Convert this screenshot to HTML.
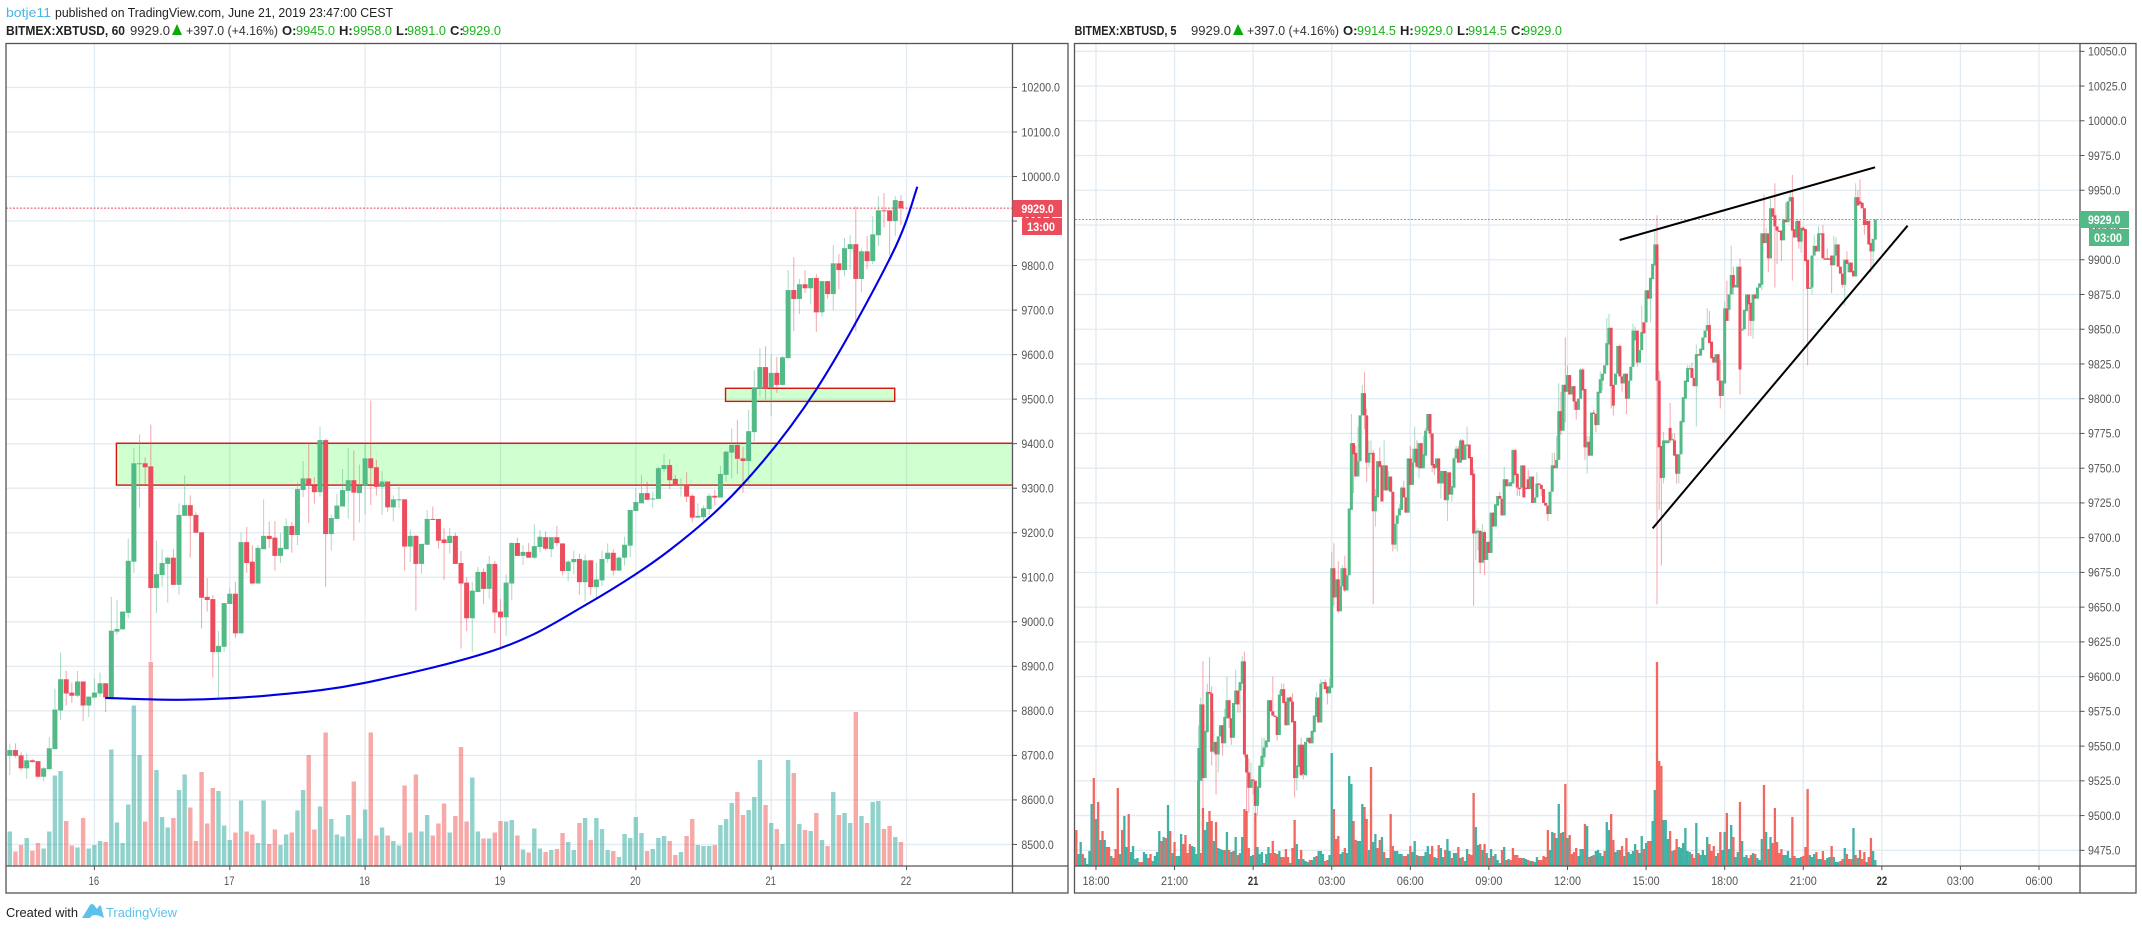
<!DOCTYPE html>
<html lang="en">
<head>
<meta charset="utf-8">
<title>BITMEX:XBTUSD charts</title>
<style>
html,body{margin:0;padding:0;background:#fff;width:2142px;height:930px;overflow:hidden}
svg{display:block;font-family:"Liberation Sans",sans-serif}
</style>
</head>
<body>
<svg id="stage" xmlns="http://www.w3.org/2000/svg" width="2142" height="930" viewBox="0 0 2142 930">
  <defs>
    <clipPath id="clipL"><rect x="6" y="44" width="1006.5" height="822"/></clipPath>
    <clipPath id="clipR"><rect x="1075" y="44" width="1005" height="822"/></clipPath>
  </defs>
  <rect x="0" y="0" width="2142" height="930" fill="#fff"/>

  <g id="gridL"></g>
  <g id="gridR"></g>
  <g id="zonesL" clip-path="url(#clipL)"></g>
  <g id="volL" clip-path="url(#clipL)"></g>
  <g id="volR" clip-path="url(#clipR)"></g>
  <g id="candL" clip-path="url(#clipL)"></g>
  <g id="candR" clip-path="url(#clipR)"></g>
  <g id="lastL" clip-path="url(#clipL)"></g>
  <g id="lastR" clip-path="url(#clipR)"></g>
  <g id="drawL" clip-path="url(#clipL)"></g>
  <g id="drawR"></g>

  <g fill="none" stroke="#555" stroke-width="1.3">
    <rect x="6" y="43.5" width="1062" height="849.5"/>
    <line x1="1012.5" y1="43.5" x2="1012.5" y2="893"/>
    <line x1="6" y1="866" x2="1068" y2="866"/>
    <rect x="1074.5" y="43.5" width="1061.5" height="849.5"/>
    <line x1="2080" y1="43.5" x2="2080" y2="893"/>
    <line x1="1074.5" y1="866" x2="2136" y2="866"/>
  </g>
  <g id="axisL"></g>
  <g id="axisR"></g>

  <g>
    <rect x="1012.5" y="200" width="49.5" height="17" fill="#eb4d5c"/>
    <text x="1021.4" y="212.8" font-size="12" font-weight="bold" fill="#fff" textLength="32.4" lengthAdjust="spacingAndGlyphs">9929.0</text>
    <rect x="1022" y="218" width="40" height="17" fill="#eb4d5c"/>
    <text x="1027" y="230.8" font-size="12" font-weight="bold" fill="#fff" textLength="28" lengthAdjust="spacingAndGlyphs">13:00</text>
  </g>
  <g>
    <rect x="2080" y="211" width="49" height="17" fill="#53b987"/>
    <text x="2088" y="223.8" font-size="12" font-weight="bold" fill="#fff" textLength="32.4" lengthAdjust="spacingAndGlyphs">9929.0</text>
    <rect x="2089" y="229" width="40" height="17" fill="#53b987"/>
    <text x="2094" y="241.8" font-size="12" font-weight="bold" fill="#fff" textLength="28" lengthAdjust="spacingAndGlyphs">03:00</text>
  </g>

  <g font-size="13">
    <text x="6" y="17" fill="#47b5e6" textLength="45" lengthAdjust="spacingAndGlyphs">botje11</text>
    <text x="55" y="17" fill="#222" textLength="338" lengthAdjust="spacingAndGlyphs">published on TradingView.com, June 21, 2019 23:47:00 CEST</text>
  </g>

  <g font-size="13">
    <text x="6" y="35" font-weight="bold" fill="#222" textLength="119" lengthAdjust="spacingAndGlyphs">BITMEX:XBTUSD, 60</text>
    <text x="130" y="35" fill="#333" textLength="40" lengthAdjust="spacingAndGlyphs">9929.0</text>
    <polygon points="172,35 177,24 182,35" fill="#0aa90a"/>
    <text x="186" y="35" fill="#333" textLength="92" lengthAdjust="spacingAndGlyphs">+397.0 (+4.16%)</text>
    <text x="282" y="35" font-weight="bold" fill="#222">O:</text>
    <text x="296" y="35" fill="#1db31d" textLength="39" lengthAdjust="spacingAndGlyphs">9945.0</text>
    <text x="339" y="35" font-weight="bold" fill="#222">H:</text>
    <text x="353" y="35" fill="#1db31d" textLength="39" lengthAdjust="spacingAndGlyphs">9958.0</text>
    <text x="396" y="35" font-weight="bold" fill="#222">L:</text>
    <text x="407" y="35" fill="#1db31d" textLength="39" lengthAdjust="spacingAndGlyphs">9891.0</text>
    <text x="450" y="35" font-weight="bold" fill="#222">C:</text>
    <text x="462" y="35" fill="#1db31d" textLength="39" lengthAdjust="spacingAndGlyphs">9929.0</text>
  </g>

  <g font-size="13">
    <text x="1074.5" y="35" font-weight="bold" fill="#222" textLength="102" lengthAdjust="spacingAndGlyphs">BITMEX:XBTUSD, 5</text>
    <text x="1191" y="35" fill="#333" textLength="40" lengthAdjust="spacingAndGlyphs">9929.0</text>
    <polygon points="1233,35 1238,24 1243.5,35" fill="#0aa90a"/>
    <text x="1247" y="35" fill="#333" textLength="92" lengthAdjust="spacingAndGlyphs">+397.0 (+4.16%)</text>
    <text x="1343" y="35" font-weight="bold" fill="#222">O:</text>
    <text x="1357" y="35" fill="#1db31d" textLength="39" lengthAdjust="spacingAndGlyphs">9914.5</text>
    <text x="1400" y="35" font-weight="bold" fill="#222">H:</text>
    <text x="1414" y="35" fill="#1db31d" textLength="39" lengthAdjust="spacingAndGlyphs">9929.0</text>
    <text x="1457" y="35" font-weight="bold" fill="#222">L:</text>
    <text x="1468" y="35" fill="#1db31d" textLength="39" lengthAdjust="spacingAndGlyphs">9914.5</text>
    <text x="1511" y="35" font-weight="bold" fill="#222">C:</text>
    <text x="1523" y="35" fill="#1db31d" textLength="39" lengthAdjust="spacingAndGlyphs">9929.0</text>
  </g>

  <g>
    <text x="6" y="917" font-size="13" fill="#222" textLength="72" lengthAdjust="spacingAndGlyphs">Created with</text>
    <path d="M82 918 L90 905 Q92 903 94 905 L97 909 L99 906 Q100 905 101 906 L104 918 Q93 912 90 918 Z" fill="#5cc2ea"/>
    <text x="106" y="917" font-size="13" fill="#5cc2ea" textLength="71" lengthAdjust="spacingAndGlyphs">TradingView</text>
  </g>
</svg>

<script>
/* ===== Left chart (60 min) data ===== */
const leftOpen = [
8699,8712,8700,8671,8689,8687,8652,8669,8714,8801,
8871,8841,8834,8866,8812,8830,8839,8862,8830,8978,
8983,9020,9135,9355,9356,9349,9076,9105,9130,9144,
9083,9238,9262,9240,9201,9056,9051,8932,8944,9040,
9063,8974,9179,9135,9086,9163,9193,9189,9148,9163,
9215,9195,9296,9322,9306,9291,9408,9197,9231,9259,
9294,9318,9289,9306,9367,9347,9303,9315,9257,9274,
9275,9169,9193,9130,9173,9231,9231,9185,9177,9193,
9132,9088,9008,9067,9112,9074,9130,9023,9010,9086,
9177,9148,9157,9144,9168,9190,9163,9190,9176,9114,
9134,9141,9089,9138,9078,9093,9141,9155,9115,9144,
9171,9249,9266,9289,9275,9276,9343,9352,9321,9305,
9307,9283,9234,9235,9253,9283,9279,9330,9380,9397,
9367,9361,9426,9523,9572,9525,9559,9532,9592,9745,
9725,9758,9749,9772,9695,9765,9736,9805,9790,9837,
9848,9770,9832,9810,9868,9924,9924,9900,9945];
const leftHigh = [
8725,8727,8707,8704,8691,8687,8674,8741,8850,8931,
8890,8863,8890,8866,8832,8873,8886,8862,9056,9049,
9023,9187,9390,9421,9369,9443,9182,9163,9146,9164,
9266,9329,9284,9246,9201,9098,9060,8979,9042,9075,
9090,9200,9213,9172,9172,9275,9225,9226,9200,9232,
9225,9313,9361,9402,9325,9439,9410,9241,9287,9343,
9390,9385,9353,9399,9497,9364,9338,9315,9284,9303,
9275,9207,9194,9175,9251,9259,9231,9211,9211,9200,
9159,9100,9089,9123,9120,9148,9137,9051,9107,9179,
9189,9172,9177,9219,9206,9203,9190,9215,9176,9139,
9160,9153,9151,9139,9133,9160,9176,9163,9147,9191,
9251,9300,9330,9315,9292,9348,9377,9365,9330,9322,
9336,9287,9266,9261,9289,9296,9350,9384,9434,9453,
9393,9476,9565,9614,9619,9601,9595,9597,9790,9819,
9770,9790,9772,9781,9765,9765,9846,9826,9862,9868,
9933,9838,9866,9911,9956,9963,9924,9956,9958];
const leftLow = [
8656,8695,8666,8647,8684,8650,8642,8669,8714,8780,
8812,8818,8831,8777,8786,8828,8831,8797,8828,8971,
8983,9008,9110,9257,9309,8911,9020,9079,9043,9083,
9061,9238,9144,9200,8985,9023,8875,8830,8933,9040,
8963,8974,9110,9084,9086,9163,9166,9115,9132,9163,
9155,9172,9280,9222,9265,9281,9079,9160,9231,9259,
9232,9182,9223,9241,9262,9284,9240,9247,9225,9255,
9115,9134,9025,9108,9173,9229,9164,9094,9153,9130,
8940,8979,8933,9067,9040,9052,8974,8940,8968,9048,
9148,9128,9144,9141,9157,9160,9145,9170,9104,9091,
9106,9061,9046,9061,9053,9080,9132,9104,9114,9126,
9145,9249,9266,9274,9256,9276,9337,9298,9306,9281,
9269,9223,9234,9226,9240,9262,9279,9315,9322,9332,
9289,9311,9405,9505,9499,9463,9514,9532,9592,9653,
9691,9739,9713,9651,9685,9725,9700,9747,9776,9790,
9653,9740,9792,9803,9844,9886,9823,9866,9891];
const leftClose = [
8712,8699,8671,8689,8685,8652,8671,8716,8803,8871,
8839,8834,8866,8812,8832,8841,8862,8830,8980,8984,
9023,9137,9356,9356,9347,9076,9107,9132,9144,9083,
9240,9262,9238,9200,9054,9049,8932,8946,9042,9063,
8974,9179,9132,9086,9166,9193,9186,9148,9166,9215,
9195,9298,9322,9306,9291,9408,9197,9233,9261,9296,
9318,9290,9306,9367,9345,9303,9315,9257,9275,9275,
9169,9193,9130,9175,9231,9229,9182,9177,9193,9130,
9086,9008,9070,9112,9074,9130,9021,9010,9088,9177,
9148,9157,9144,9170,9191,9164,9190,9177,9114,9135,
9141,9089,9138,9078,9095,9141,9155,9115,9144,9173,
9251,9269,9289,9274,9277,9345,9352,9318,9306,9307,
9281,9234,9238,9255,9283,9279,9332,9382,9397,9366,
9361,9428,9525,9572,9523,9559,9532,9594,9745,9725,
9758,9749,9772,9695,9765,9736,9805,9790,9839,9848,
9770,9832,9810,9870,9924,9922,9900,9947,9929];
const leftVolume = [
34.5,14.5,21,28,15.5,23,17.5,34.5,90.5,95,
45,20.5,18.5,48,17.5,21,25,24,116.5,43.5,
23,61.5,160.5,111,44.5,204,96,49,38.5,48,
76,91.5,58.5,25,94,42.5,78,75,40.5,26,
33.5,65.5,34.5,31.5,23,65.5,22,36.5,21,31.5,
33.5,55.5,76,111,36.5,59.5,133.5,47,31.5,29.5,
51,84.5,27.5,56.5,133.5,30.5,38.5,30.5,25,20.5,
80.5,33.5,91.5,34.5,51,30.5,42.5,62.5,33.5,50,
119,44.5,88.5,34.5,27.5,27.5,33.5,45,44.5,46,
30.5,16.5,13.5,37.5,17.5,14,16,17,33,24,
16,43,48,26,48,37,16,15,9,32,
28,49,33,15,17,28,30,25,11,14,
30,47,21,20,20,21,41,47,63,74,
51,56,69,106,61,43,37,22,106,93,
42,36,35,53,26,20,74,51,53,43,
154,50,43,64,65,37,40,29,24];
const leftPriceTicks = [10200,10100,10000,9900,9800,9700,9600,9500,9400,9300,9200,9100,9000,8900,8800,8700,8600,8500];
const leftTimeBars = [15,39,63,87,111,135,159];
const leftTimeLabels = ["16","17","18","19","20","21","22"];
const leftLastPrice = [9929];
/* zones: first bar, last bar (null = to axis), upper price, lower price */
const zoneStartBar = [18.9,126.9];
const zoneEndBar = [null,156.9];
const zoneTop = [9401,9524.4];
const zoneBottom = [9307,9495];
/* hand drawn parabola: date (day of June) and price */
const curveDay = [16.08,16.68,17.3,18.0,19.0,19.63,20.25,20.8,21.34,21.89,22.08];
const curvePrice = [8829,8825,8835,8863,8941,9038,9161,9312,9525,9824,9977];

/* ===== Right chart (5 min) data ===== */
const rightOpen = [
9469,9525,9580,9527,9560,9589,9588,9546,9553,9544,
9557,9565,9552,9570,9583,9570,9556,9580,9590,9590,
9595,9611,9544,9531,9520,9526,9525,9507,9520,9535,
9542,9549,9553,9583,9575,9572,9571,9558,9586,9591,
9582,9565,9585,9582,9568,9527,9535,9551,9551,9529,
9553,9556,9552,9560,9571,9585,9567,9595,9596,9593,
9588,9592,9678,9657,9670,9647,9665,9678,9662,9673,
9720,9768,9761,9744,9755,9788,9804,9788,9754,9760,
9761,9719,9729,9755,9752,9734,9752,9734,9744,9733,
9695,9710,9716,9720,9736,9729,9718,9757,9738,9754,
9764,9750,9768,9750,9759,9777,9789,9775,9753,9750,
9757,9739,9739,9748,9727,9747,9731,9736,9757,9764,
9754,9770,9756,9766,9767,9758,9746,9703,9704,9705,
9682,9704,9684,9697,9689,9718,9708,9723,9730,9728,
9716,9742,9737,9737,9739,9763,9746,9736,9736,9752,
9736,9742,9735,9744,9725,9729,9739,9738,9735,9725,
9723,9717,9733,9752,9750,9756,9791,9777,9810,9805,
9817,9803,9809,9798,9792,9800,9821,9807,9765,9769,
9759,9790,9789,9781,9804,9813,9818,9824,9839,9851,
9810,9810,9818,9838,9816,9811,9818,9800,9813,9823,
9842,9849,9826,9835,9855,9855,9878,9872,9886,9896,
9911,9813,9766,9743,9768,9768,9779,9770,9770,9760,
9746,9760,9783,9800,9812,9821,9822,9815,9809,9832,
9831,9835,9844,9849,9853,9841,9830,9826,9832,9813,
9802,9811,9865,9864,9875,9889,9880,9880,9895,9849,
9850,9863,9875,9869,9856,9875,9872,9880,9882,9919,
9912,9919,9901,9937,9932,9924,9921,9921,9914,9929,
9927,9942,9945,9922,9916,9928,9913,9923,9922,9900,
9879,9880,9903,9910,9906,9918,9919,9901,9901,9901,
9903,9896,9903,9911,9895,9890,9882,9900,9891,9898,
9892,9888,9945,9942,9941,9937,9928,9928,9912,9906,9914.5];
const rightHigh = [
9565,9585,9611,9561,9595,9614,9593,9575,9553,9557,
9565,9565,9577,9600,9583,9570,9581,9605,9590,9596,
9615,9618,9544,9541,9538,9526,9525,9521,9536,9556,
9556,9554,9583,9583,9600,9572,9571,9590,9595,9595,
9582,9585,9586,9588,9568,9536,9551,9556,9551,9553,
9556,9556,9561,9572,9589,9585,9598,9596,9598,9593,
9599,9690,9696,9670,9683,9678,9680,9687,9673,9721,
9789,9768,9766,9780,9788,9810,9819,9793,9770,9770,
9763,9735,9755,9765,9752,9770,9752,9748,9744,9733,
9710,9716,9724,9737,9741,9729,9757,9766,9764,9780,
9770,9768,9768,9773,9779,9789,9789,9775,9753,9757,
9757,9748,9748,9748,9747,9747,9737,9758,9766,9766,
9771,9771,9767,9780,9767,9758,9749,9713,9707,9705,
9710,9705,9697,9697,9718,9718,9724,9730,9733,9728,
9751,9742,9742,9740,9764,9764,9746,9736,9752,9752,
9736,9749,9744,9744,9729,9747,9739,9738,9735,9725,
9723,9733,9761,9761,9773,9811,9805,9810,9844,9824,
9817,9809,9809,9798,9800,9822,9822,9807,9773,9773,
9790,9792,9789,9805,9820,9818,9824,9858,9861,9851,
9810,9818,9838,9839,9816,9818,9818,9813,9823,9854,
9852,9849,9835,9867,9855,9878,9878,9887,9897,9921,
9932,9820,9766,9776,9770,9770,9797,9775,9775,9760,
9760,9784,9801,9813,9824,9824,9826,9815,9839,9832,
9836,9844,9849,9865,9863,9841,9830,9832,9832,9828,
9813,9870,9885,9875,9910,9895,9882,9895,9901,9851,
9864,9875,9875,9869,9875,9875,9880,9883,9919,9947,
9923,9919,9944,9937,9955,9924,9921,9921,9929,9941,
9942,9950,9961,9922,9928,9928,9923,9924,9922,9900,
9880,9903,9918,9910,9924,9919,9925,9901,9908,9901,
9903,9917,9916,9911,9895,9890,9900,9906,9898,9898,
9892,9955,9950,9958,9941,9937,9928,9928,9912,9915,9929];
const rightLow = [
9469,9525,9500,9527,9560,9587,9536,9545,9515,9531,
9557,9543,9552,9570,9563,9551,9556,9580,9574,9574,
9595,9542,9500,9502,9520,9515,9496,9500,9520,9535,
9536,9549,9553,9575,9572,9571,9554,9558,9586,9581,
9565,9565,9582,9567,9513,9518,9535,9529,9526,9529,
9553,9552,9552,9560,9571,9567,9567,9595,9591,9580,
9588,9592,9651,9657,9646,9647,9665,9661,9662,9673,
9720,9732,9744,9744,9755,9788,9778,9740,9751,9760,
9652,9708,9729,9751,9726,9734,9734,9734,9733,9690,
9692,9690,9716,9720,9729,9718,9718,9738,9738,9754,
9751,9743,9750,9750,9759,9777,9772,9747,9745,9750,
9739,9728,9739,9727,9712,9731,9726,9736,9757,9754,
9754,9756,9756,9766,9757,9745,9651,9684,9691,9674,
9682,9673,9684,9689,9689,9708,9708,9723,9728,9716,
9716,9737,9737,9737,9739,9745,9730,9730,9736,9729,
9735,9735,9735,9725,9725,9729,9738,9730,9725,9723,
9712,9717,9733,9750,9750,9756,9774,9777,9783,9805,
9803,9803,9792,9785,9792,9800,9806,9756,9746,9759,
9759,9789,9776,9781,9804,9806,9818,9824,9839,9793,
9788,9810,9818,9816,9805,9811,9789,9800,9813,9823,
9842,9823,9826,9835,9847,9855,9872,9855,9886,9896,
9652,9720,9680,9739,9768,9768,9768,9770,9759,9739,
9739,9760,9783,9800,9812,9821,9815,9809,9780,9831,
9831,9835,9844,9849,9840,9829,9826,9826,9813,9793,
9802,9811,9856,9856,9875,9875,9880,9880,9803,9849,
9850,9863,9845,9845,9843,9872,9872,9880,9878,9912,
9912,9891,9901,9931,9880,9897,9920,9899,9914,9927,
9927,9942,9885,9916,9916,9908,9905,9921,9899,9824,
9879,9875,9903,9906,9906,9918,9901,9900,9900,9900,
9876,9896,9903,9895,9890,9880,9867,9897,9891,9891,
9888,9888,9939,9940,9937,9918,9925,9911,9891,9893,9914.5];
const rightClose = [
9525,9580,9527,9561,9589,9588,9546,9553,9544,9557,
9565,9552,9571,9583,9570,9556,9581,9590,9580,9596,
9611,9544,9531,9520,9526,9525,9507,9521,9536,9543,
9549,9554,9583,9575,9572,9571,9558,9587,9591,9581,
9565,9585,9582,9567,9527,9536,9551,9529,9530,9553,
9556,9552,9561,9572,9585,9567,9595,9596,9591,9588,
9593,9678,9657,9670,9647,9665,9678,9662,9673,9721,
9768,9760,9744,9755,9788,9804,9788,9754,9761,9761,
9719,9730,9755,9751,9726,9752,9734,9744,9733,9695,
9710,9716,9721,9736,9729,9718,9757,9738,9754,9764,
9751,9768,9750,9760,9777,9789,9775,9752,9750,9757,
9739,9748,9748,9727,9747,9731,9737,9757,9764,9754,
9770,9756,9767,9767,9757,9745,9703,9705,9705,9682,
9704,9684,9697,9689,9718,9708,9724,9730,9728,9716,
9742,9737,9739,9740,9763,9745,9736,9735,9752,9729,
9735,9735,9744,9725,9729,9739,9738,9735,9725,9723,
9717,9733,9752,9750,9756,9791,9777,9810,9805,9817,
9803,9809,9798,9792,9800,9821,9806,9765,9769,9759,
9790,9789,9781,9805,9814,9818,9824,9840,9851,9809,
9795,9818,9838,9816,9811,9818,9800,9813,9823,9849,
9849,9826,9835,9848,9847,9878,9872,9887,9897,9911,
9813,9765,9743,9770,9770,9770,9770,9771,9759,9746,
9760,9784,9801,9813,9822,9822,9815,9809,9832,9831,
9836,9844,9849,9853,9840,9829,9826,9832,9813,9802,
9813,9865,9856,9875,9889,9880,9882,9895,9821,9850,
9864,9875,9868,9856,9875,9872,9880,9883,9919,9912,
9919,9901,9937,9931,9924,9921,9920,9914,9929,9927,
9942,9945,9921,9916,9928,9913,9923,9921,9899,9879,
9880,9903,9910,9906,9919,9919,9901,9900,9900,9900,
9896,9903,9911,9895,9890,9882,9900,9897,9898,9891,
9888,9945,9939,9940,9937,9925,9925,9911,9906,9915,9929];
/* signed volume: negative = down bar */
const rightVolume = [
-36,12,24,-12,8,2,15,62,-88,47,
-64,26,-35,26,-19,-19,10,-8,-17,-78,
12,-36,50,19,-52,14,20,7,8,-4,
-4,14,12,-8,-12,5,10,14,35,-25,
29,-28,61,-35,13,-24,10,10,32,-22,
-31,-13,-22,20,19,12,
118,-13,-58,36,44,-55,-45,25,-44,18,
17,16,-16,34,-16,14,-15,29,-11,13,
29,-57,-55,-18,10,11,-53,19,12,14,
-3,12,19,-13,-25,-13,-12,15,-9,-9,
-17,-9,3,-18,-46,22,7,-16,7,5,
4,-6,6,9,-10,15,15,12,-5,-6,
11,113,-57,-27,-30,12,14,-18,13,90,
82,-45,-26,25,25,62,-59,-47,16,-99,
24,32,-18,-26,29,-14,8,8,-52,-20,
15,15,12,12,-10,-10,12,-20,14,25,
-11,10,-10,10,14,20,-12,-20,9,8,
-21,18,9,-16,27,15,-8,13,13,-19,
8,-9,5,17,-12,-11,-73,39,21,-22,
16,-22,13,-8,17,-10,12,6,3,-16,
19,-6,7,-6,-18,-11,-11,-8,-8,8,
7,-6,5,-5,4,9,-6,-6,-10,-9,
-36,16,34,-33,28,62,-33,34,-82,28,
-31,-12,-14,-18,10,17,17,-42,40,-9,
10,-11,15,16,13,10,-15,44,36,
-52,-26,14,16,-16,-20,10,-28,14,12,
15,22,-16,13,30,-17,23,-25,-25,45,
76,-204,-105,-100,46,46,27,-35,15,-16,
-27,19,18,23,38,15,14,-12,-8,43,
-13,11,16,11,29,-22,-15,-20,10,-13,
-34,16,34,-53,17,41,-29,9,14,-64,
25,9,11,-8,-11,13,-12,8,6,27,
-81,34,-17,29,-23,-58,-24,-13,-17,11,
11,15,8,-49,-10,8,8,9,-10,-19,
-77,11,9,12,-14,7,7,-15,-6,8,
9,-20,9,4,4,-5,-7,18,-12,-7,
-7,38,-11,8,-16,-7,-14,4,-9,-28,
15,6];
const rightPriceTicks = [10050,10025,10000,9975,9950,9925,9900,9875,9850,9825,9800,9775,9750,9725,9700,9675,9650,9625,9600,9575,9550,9525,9500,9475];
const rightTimeBars = [9,45,81,117,153,189,225,261,297,333,369,405,441];
const rightTimeLabels = ["18:00","21:00","21","03:00","06:00","09:00","12:00","15:00","18:00","21:00","22","03:00","06:00"];
const rightBoldLabels = ["21","22"];
const rightLastPrice = [9929];
/* trend lines: bar position and price at both ends */
const trendStartBar = [248.9,264];
const trendEndBar = [365.9,380.8];
const trendStartPrice = [9914.2,9706.7];
const trendEndPrice = [9966.5,9924.5];

/* ===== Axis functions ===== */
const lx = i => 9.8 + i * 5.64;
const ly = p => 176.5 + (10000 - p) * 0.4453;
const dayBar = d => 15 + (d - 16) * 24;
const rx = i => 1875.3 - (rightVolume.length - 1 - i) * 2.183;
const ry = p => 51.3 + (10050 - p) * 1.3896;
const volMax = 340, volPaneHeight = 340, axisBase = 866;
const vh = v => Math.abs(v) / volMax * volPaneHeight;
const priceLabelWidth = s => s.length > 6 ? 38.6 : 32.4;
const timeLabelWidth = s => s.length > 2 ? 27 : 10.5;

const NS = 'http://www.w3.org/2000/svg';
function svgEl(tag, attrs, parent) {
  const el = document.createElementNS(NS, tag);
  for (const k in attrs) el.setAttribute(k, attrs[k]);
  parent.appendChild(el);
  return el;
}
const $ = id => document.getElementById(id);
const GRID = '#e2ebf2', UP = '#53b987', DOWN = '#eb4d5c';
const UPW = 'rgba(83,185,135,.5)', DOWNW = 'rgba(235,77,92,.5)';

/* ===== Grids ===== */
leftPriceTicks.forEach(p => {
  const g = svgEl('line', {x1: 6, x2: 1012.5, y1: ly(p), y2: ly(p), stroke: GRID, 'stroke-width': 1.3}, $('gridL'));
  
  
  const t = svgEl('line', {x1: 1012.5, x2: 1017, y1: ly(p), y2: ly(p), stroke: '#555', 'stroke-width': 1}, $('axisL'));
  
  
  const txt = p.toFixed(1);
  const l = svgEl('text', {x: 1021.4, y: ly(p) + 4.3, 'font-size': 12, fill: '#555', textLength: priceLabelWidth(txt), lengthAdjust: 'spacingAndGlyphs'}, $('axisL'));
  
  
  l.textContent = txt;
});
leftTimeBars.forEach((b, i) => {
  const g = svgEl('line', {x1: lx(b), x2: lx(b), y1: 44, y2: 866, stroke: GRID, 'stroke-width': 1.3}, $('gridL'));
  
  
  const t = svgEl('line', {x1: lx(b), x2: lx(b), y1: 866, y2: 870, stroke: '#555', 'stroke-width': 1}, $('axisL'));
  
  
  const l = svgEl('text', {x: lx(b) - 0.5, y: 885.2, 'font-size': 12, fill: '#555', 'text-anchor': 'middle', textLength: timeLabelWidth(leftTimeLabels[i]), lengthAdjust: 'spacingAndGlyphs'}, $('axisL'));
  
  
  l.textContent = leftTimeLabels[i];
});
rightPriceTicks.forEach(p => {
  const g = svgEl('line', {x1: 1075, x2: 2080, y1: ry(p), y2: ry(p), stroke: GRID, 'stroke-width': 1.3}, $('gridR'));
  
  
  const t = svgEl('line', {x1: 2080, x2: 2084.5, y1: ry(p), y2: ry(p), stroke: '#555', 'stroke-width': 1}, $('axisR'));
  
  
  const txt = p.toFixed(1);
  const l = svgEl('text', {x: 2088, y: ry(p) + 4.3, 'font-size': 12, fill: '#555', textLength: priceLabelWidth(txt), lengthAdjust: 'spacingAndGlyphs'}, $('axisR'));
  
  
  l.textContent = txt;
});
rightTimeBars.forEach((b, i) => {
  const g = svgEl('line', {x1: rx(b), x2: rx(b), y1: 44, y2: 866, stroke: GRID, 'stroke-width': 1.3}, $('gridR'));
  
  
  const t = svgEl('line', {x1: rx(b), x2: rx(b), y1: 866, y2: 870, stroke: '#555', 'stroke-width': 1}, $('axisR'));
  
  
  const bold = rightBoldLabels.includes(rightTimeLabels[i]);
  const l = svgEl('text', {x: rx(b), y: 885.2, 'font-size': 12, fill: bold ? '#333' : '#555', 'font-weight': bold ? 'bold' : 'normal', 'text-anchor': 'middle', textLength: timeLabelWidth(rightTimeLabels[i]), lengthAdjust: 'spacingAndGlyphs'}, $('axisR'));
  
  
  l.textContent = rightTimeLabels[i];
});

/* ===== Left zones ===== */
zoneStartBar.forEach((s, i) => {
  const x0 = lx(s), x1 = zoneEndBar[i] === null ? 1013 : lx(zoneEndBar[i]);
  const z = svgEl('rect', {x: x0, y: ly(zoneTop[i]), width: x1 - x0, height: ly(zoneBottom[i]) - ly(zoneTop[i]), fill: 'rgba(0,255,0,.185)', stroke: '#d5140f', 'stroke-width': 1.4}, $('zonesL'));
  
  
});

/* ===== Left volume ===== */
leftVolume.forEach((v, i) => {
  const up = leftClose[i] >= leftOpen[i];
  const b = svgEl('rect', {x: lx(i) - 2.2, y: axisBase - vh(v), width: 4.4, height: vh(v), fill: up ? 'rgba(38,166,154,.5)' : 'rgba(239,83,80,.5)'}, $('volL'));
  
  
});
/* ===== Right volume ===== */
rightVolume.forEach((v, i) => {
  const b = svgEl('rect', {x: rx(i) - 1.15, y: axisBase - vh(v), width: 2.3, height: vh(v), fill: v >= 0 ? '#3fb1a5' : '#f2675f'}, $('volR'));
  
  
});

/* ===== Candles ===== */
leftClose.forEach((c, i) => {
  const o = leftOpen[i], up = c >= o;
  const w = svgEl('rect', {x: lx(i) - 0.5, y: ly(leftHigh[i]), width: 1, height: Math.max(0.5, ly(leftLow[i]) - ly(leftHigh[i])), fill: up ? UPW : DOWNW}, $('candL'));
  
  
  const top = ly(Math.max(o, c)), bot = ly(Math.min(o, c));
  const b = svgEl('rect', {x: lx(i) - 2.5, y: top, width: 5, height: Math.max(1, bot - top), fill: up ? UP : DOWN}, $('candL'));
  
  
});
const rightOffset = rightVolume.length - rightClose.length;
rightClose.forEach((c, i) => {
  const o = rightOpen[i], up = c >= o, x = rx(i + rightOffset);
  const w = svgEl('rect', {x: x - 0.5, y: ry(rightHigh[i]), width: 1, height: Math.max(0.5, ry(rightLow[i]) - ry(rightHigh[i])), fill: up ? UPW : DOWNW}, $('candR'));
  
  
  const top = ry(Math.max(o, c)), bot = ry(Math.min(o, c));
  const b = svgEl('rect', {x: x - 1.5, y: top, width: 3, height: Math.max(1, bot - top), fill: up ? UP : DOWN}, $('candR'));
  
  
});

/* ===== Last price lines ===== */
const lastLine = svgEl('line', {x1: 6, x2: 1012.5, y1: ly(leftLastPrice[0]), y2: ly(leftLastPrice[0]), stroke: DOWN, 'stroke-width': 1, 'stroke-dasharray': '2 1.5'}, $('lastL'));


const lastLineR = svgEl('line', {x1: 1075, x2: 2080, y1: ry(rightLastPrice[0]), y2: ry(rightLastPrice[0]), stroke: UP, 'stroke-width': 1, 'stroke-dasharray': '2 1.5'}, $('lastR'));



/* ===== Blue parabola (Catmull-Rom through the drawn anchors) ===== */
const pts = curveDay.map((d, i) => [lx(dayBar(d)), ly(curvePrice[i])]);
let d = 'M' + pts[0][0] + ' ' + pts[0][1];
for (let i = 0; i < pts.length - 1; i++) {
  const p0 = pts[Math.max(0, i - 1)], p1 = pts[i], p2 = pts[i + 1], p3 = pts[Math.min(pts.length - 1, i + 2)];
  d += ' C' + (p1[0] + (p2[0] - p0[0]) / 6) + ' ' + (p1[1] + (p2[1] - p0[1]) / 6) + ' ' +
       (p2[0] - (p3[0] - p1[0]) / 6) + ' ' + (p2[1] - (p3[1] - p1[1]) / 6) + ' ' + p2[0] + ' ' + p2[1];
}
const curve = svgEl('path', {d: d, fill: 'none', stroke: '#0000e6', 'stroke-width': 2.1}, $('drawL'));



/* ===== Trend lines ===== */
trendStartBar.forEach((s, i) => {
  const t = svgEl('line', {x1: rx(s), y1: ry(trendStartPrice[i]), x2: rx(trendEndBar[i]), y2: ry(trendEndPrice[i]), stroke: '#000', 'stroke-width': 2}, $('drawR'));
  
  
});
</script>
</body>
</html>
